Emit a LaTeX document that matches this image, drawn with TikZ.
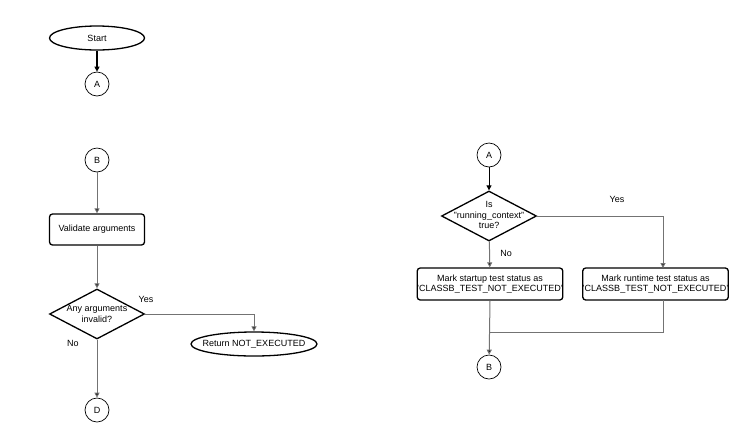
\documentclass[tikz,border=0pt]{standalone}
\usepackage{fontspec}
\setmainfont{Liberation Sans}
\usetikzlibrary{shapes.geometric,arrows.meta}
\begin{document}
\begin{tikzpicture}[x=1pt,y=-1pt,
  every node/.style={font=\fontsize{9}{10.5}\selectfont, inner sep=0pt, align=center},
  term/.style={ellipse, draw, line width=1.3pt, minimum width=95, minimum height=24},
  conn/.style={circle, draw, line width=0.7pt, minimum size=24},
  proc/.style={rectangle, rounded corners=3pt, draw, line width=1.3pt, minimum width=95, minimum height=31},
  proc2/.style={rectangle, rounded corners=3pt, draw, line width=1.3pt, minimum width=141, minimum height=32},
  dec/.style={diamond, draw, line width=1.3pt, minimum width=95, minimum height=50, aspect=1.9},
  flow/.style={draw=black!55, line width=1pt, -{Triangle[length=5pt,width=5pt,fill=black]}},
  flowk/.style={draw=black, line width=1.2pt, -{Triangle[length=5pt,width=5pt]}},
  seg/.style={draw=black!55, line width=1pt},
  lbl/.style={font=\fontsize{9}{10.5}\selectfont}
]
\useasboundingbox (0,0) rectangle (746,440);
% left column
\node[term] (start) at (97,38) {};
\node at (start) {Start};
\node[conn] (a1) at (97,84) {A};
\node[conn] (b1) at (97,160) {B};
\node[proc] (val) at (97,229.5) {Validate arguments};
\node[dec] (inv) at (97,314) {};
\node at (97,314) {Any arguments\\invalid?};
\node[term, minimum width=126] (ret) at (254,344) {};
\node at (ret) {Return NOT\_EXECUTED};
\node[conn] (d1) at (97,410) {D};
\draw[flowk] (start) -- (a1);
\draw[flow] (b1) -- (val);
\draw[flow] (val) -- (inv);
\draw[flow] (inv.east) -| (ret.north);
\draw[flow] (inv) -- (d1);
\node[lbl] at (146,299) {Yes};
\node[lbl] at (73,343) {No};
% right column
\node[conn] (a2) at (489,155) {A};
\node[dec] (ctx) at (489,216) {};
\node at (489,215) {Is\\"running\_context"\\true?};
\node[proc2] (mst) at (490,284) {Mark startup test status as\\'CLASSB\_TEST\_NOT\_EXECUTED'};
\node[proc2] (mrt) at (655.5,284) {Mark runtime test status as\\'CLASSB\_TEST\_NOT\_EXECUTED'};
\node[conn] (b2) at (489,367) {B};
\coordinate (j) at (489,332);
\coordinate (rt) at (663,268);
\coordinate (rb) at (663,300);
\draw[flowk, line width=0.8pt] (a2) -- (ctx);
\draw[flow] (ctx.east) -| (rt);
\draw[flow] (ctx) -- (mst);
\node[lbl] at (617,199) {Yes};
\node[lbl] at (506,253) {No};
\draw[seg] (rb) |- (j);
\draw[flow] (mst.south) -- (b2);
\end{tikzpicture}
\end{document}
